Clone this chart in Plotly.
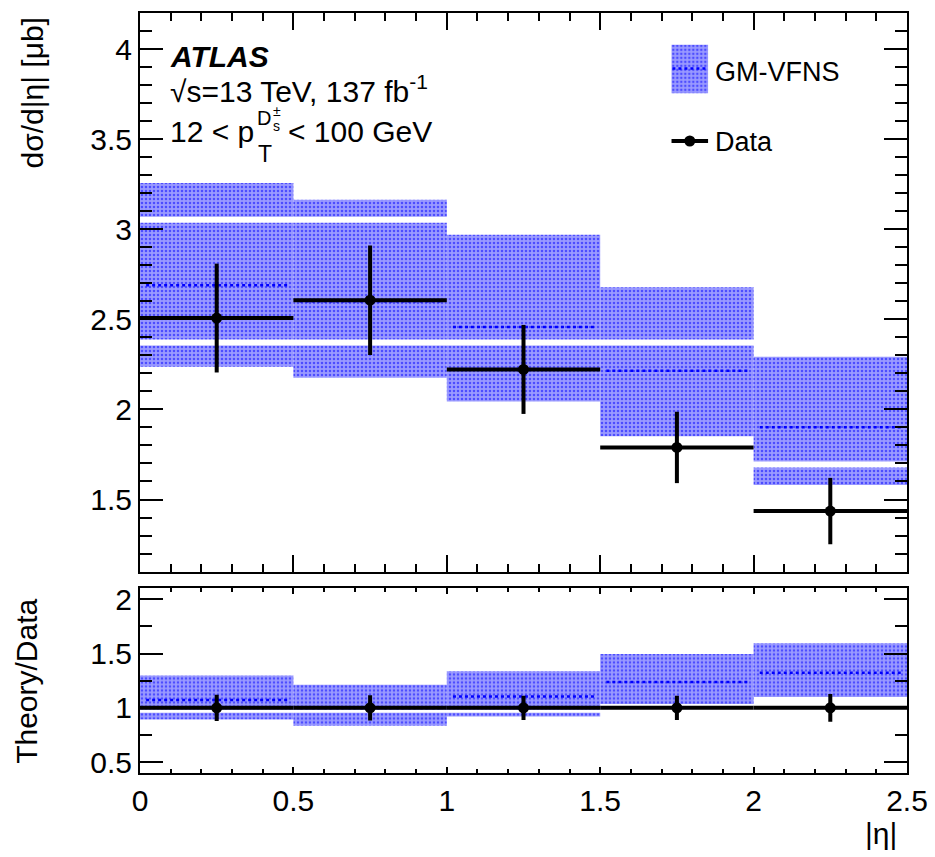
import plotly.graph_objects as go

# ---------------- data ----------------
bin_lo = [0.0, 0.5, 1.0, 1.5, 2.0]
bin_hi = [0.5, 1.0, 1.5, 2.0, 2.5]

data_val = [2.507, 2.606, 2.222, 1.789, 1.436]
data_err = [0.302, 0.304, 0.247, 0.198, 0.184]

theory_val = [2.689, 2.600, 2.457, 2.215, 1.901]
theory_lo = [2.237, 2.176, 2.044, 1.851, 1.581]
theory_hi = [3.256, 3.163, 2.970, 2.678, 2.292]

xticks = [0, 0.5, 1, 1.5, 2, 2.5]

# ROOT hatch-pattern tile seams (white stripes seen inside the bands)
seam_main = [3.052, 2.372, 1.694]
seam_ratio = [0.968]

# ---------------- derived ----------------
centers = [(a + b) / 2 for a, b in zip(bin_lo, bin_hi)]
halfw = [(b - a) / 2 for a, b in zip(bin_lo, bin_hi)]
widths = [b - a for a, b in zip(bin_lo, bin_hi)]

r_val = [t / d for t, d in zip(theory_val, data_val)]
r_lo = [t / d for t, d in zip(theory_lo, data_val)]
r_hi = [t / d for t, d in zip(theory_hi, data_val)]
r_err = [e / d for e, d in zip(data_err, data_val)]
ones = [1.0 for _ in data_val]

FONT = "Liberation Sans"
BLUE = "#0000ff"
band_marker = dict(color="#9a9aff", line=dict(width=0),
                   pattern=dict(shape=".", fgcolor=BLUE, size=4, solidity=0.32,
                                fillmode="overlay"))


def step_segments(lo, hi, vals, shrink=0.02):
    xs, ys = [], []
    for a, b, v in zip(lo, hi, vals):
        xs += [a + shrink, b - shrink, None]
        ys += [v, v, None]
    return xs, ys


def seam_segments(levels):
    xs, ys = [], []
    for v in levels:
        xs += [bin_lo[0], bin_hi[-1], None]
        ys += [v, v, None]
    return xs, ys


fig = go.Figure()

# ---- main panel ----
fig.add_trace(go.Bar(x=centers, y=[h - l for h, l in zip(theory_hi, theory_lo)],
                     base=theory_lo, width=widths, marker=band_marker,
                     xaxis="x", yaxis="y", showlegend=False))
sx, sy = seam_segments(seam_main)
fig.add_trace(go.Scatter(x=sx, y=sy, mode="lines", line=dict(color="white", width=6),
                         xaxis="x", yaxis="y", showlegend=False, hoverinfo="skip"))
cx, cy = step_segments(bin_lo, bin_hi, theory_val)
fig.add_trace(go.Scatter(x=cx, y=cy, mode="lines", line=dict(color=BLUE, width=2.5, dash="dot"),
                         xaxis="x", yaxis="y", showlegend=False))
fig.add_trace(go.Scatter(x=centers, y=data_val, mode="markers",
                         marker=dict(color="black", size=11),
                         error_y=dict(type="data", array=data_err, color="black", thickness=4, width=0),
                         error_x=dict(type="data", array=halfw, color="black", thickness=4, width=0),
                         xaxis="x", yaxis="y", showlegend=False))

# ---- ratio panel ----
fig.add_trace(go.Bar(x=centers, y=[h - l for h, l in zip(r_hi, r_lo)],
                     base=r_lo, width=widths, marker=band_marker,
                     xaxis="x2", yaxis="y2", showlegend=False))
sx, sy = seam_segments(seam_ratio)
fig.add_trace(go.Scatter(x=sx, y=sy, mode="lines", line=dict(color="white", width=3),
                         xaxis="x2", yaxis="y2", showlegend=False, hoverinfo="skip"))
cx, cy = step_segments(bin_lo, bin_hi, r_val)
fig.add_trace(go.Scatter(x=cx, y=cy, mode="lines", line=dict(color=BLUE, width=2.5, dash="dot"),
                         xaxis="x2", yaxis="y2", showlegend=False))
fig.add_trace(go.Scatter(x=centers, y=ones, mode="markers",
                         marker=dict(color="black", size=11),
                         error_y=dict(type="data", array=r_err, color="black", thickness=4, width=0),
                         error_x=dict(type="data", array=halfw, color="black", thickness=4, width=0),
                         xaxis="x2", yaxis="y2", showlegend=False))

# ---- legend keys (drawn in a pixel-like helper axis) ----
fig.add_trace(go.Bar(x=[0.5], y=[49], base=[39], width=[1.0], marker=band_marker,
                     xaxis="x3", yaxis="y3", showlegend=False, hoverinfo="skip"))
fig.add_trace(go.Scatter(x=[0.03, 0.97], y=[63, 63], mode="lines",
                         line=dict(color=BLUE, width=2.5, dash="dot"),
                         xaxis="x3", yaxis="y3", showlegend=False, hoverinfo="skip"))
fig.add_trace(go.Scatter(x=[0.0, 1.0], y=[136, 136], mode="lines",
                         line=dict(color="black", width=4),
                         xaxis="x3", yaxis="y3", showlegend=False, hoverinfo="skip"))
fig.add_trace(go.Scatter(x=[0.5], y=[136], mode="markers",
                         marker=dict(color="black", size=11),
                         xaxis="x3", yaxis="y3", showlegend=False, hoverinfo="skip"))

W, H = 935, 857
ML, MR, MT, MB = 140, 27, 7, 84
PW, PH = W - ML - MR, H - MT - MB


def px_x(px):
    return (px - ML) / PW


def px_y(py):
    return (H - MB - py) / PH


tickfont = dict(family=FONT, size=30, color="black")
common_axis = dict(showline=True, linecolor="black", linewidth=2, mirror="allticks",
                   ticks="inside", tickcolor="black", tickwidth=1.5, showgrid=False,
                   zeroline=False, tickfont=tickfont)

fig.update_layout(
    width=W, height=H,
    margin=dict(l=ML, r=MR, t=MT, b=MB),
    paper_bgcolor="white", plot_bgcolor="white",
    barmode="overlay", showlegend=False,
    font=dict(family=FONT, color="black"),
    xaxis=dict(common_axis, domain=[0, 1], range=[0, 2.5], anchor="y",
               tickvals=xticks, showticklabels=False, ticklen=17,
               minor=dict(dtick=0.1, ticklen=8, ticks="inside", tickcolor="black", tickwidth=1.5)),
    yaxis=dict(common_axis, domain=[px_y(570), 1], range=[1.1, 4.2], anchor="x",
               tick0=0, dtick=0.5, ticklen=23,
               minor=dict(dtick=0.1, ticklen=12, ticks="inside", tickcolor="black", tickwidth=1.5)),
    xaxis2=dict(common_axis, domain=[0, 1], range=[0, 2.5], anchor="y2",
                tickvals=xticks, ticktext=[str(v) for v in xticks], ticklen=6,
                minor=dict(dtick=0.1, ticklen=4, ticks="inside", tickcolor="black", tickwidth=1.5)),
    yaxis2=dict(common_axis, domain=[0, px_y(587)], range=[0.4, 2.1], anchor="x2",
                tick0=0, dtick=0.5, ticklen=23,
                minor=dict(dtick=0.25, ticklen=12, ticks="inside", tickcolor="black", tickwidth=1.5)),
    xaxis3=dict(domain=[px_x(672), px_x(709)], range=[0, 1], visible=False, anchor="y3",
                fixedrange=True),
    yaxis3=dict(domain=[px_y(150), px_y(30)], range=[150, 30], visible=False, anchor="x3",
                fixedrange=True),
)

ann = []


def add_text(text, x_px, y_px, size, xanchor="left", yanchor="middle", angle=0):
    ann.append(dict(text=text, x=px_x(x_px), y=px_y(y_px), xref="paper", yref="paper",
                    xanchor=xanchor, yanchor=yanchor, showarrow=False, textangle=angle,
                    font=dict(family=FONT, size=size, color="black")))


add_text("<b><i>ATLAS</i></b>", 168, 51, 30)
add_text("√s=13 TeV, 137 fb<sup>-1</sup>", 168, 84, 30)
add_text("12 < p", 168, 126, 30)
add_text("T", 256, 149, 23)
add_text("D", 255, 113, 20)
add_text("±", 271, 106, 14)
add_text("s", 271, 121, 14)
add_text("< 100 GeV", 286, 126, 30)
add_text("GM-VFNS", 714, 66, 27)
add_text("Data", 714, 137, 27)
add_text("dσ/d|η| [μb]", 32, 88, 30, xanchor="center", angle=-90)
add_text("Theory/Data", 27, 681, 30, xanchor="center", angle=-90)
add_text("|η|", 882, 834, 30, xanchor="center")

fig.update_layout(annotations=ann)

fig.write_html("out.html")
